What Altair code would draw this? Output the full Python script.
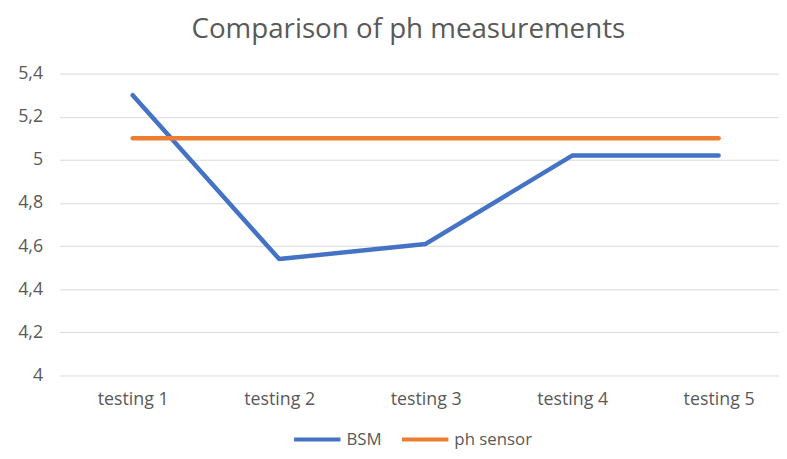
import altair as alt
import pandas as pd

categories = ["testing 1", "testing 2", "testing 3", "testing 4", "testing 5"]
bsm = [5.3, 4.54, 4.61, 5.02, 5.02]
ph_sensor = [5.1, 5.1, 5.1, 5.1, 5.1]
series_names = ["BSM", "ph sensor"]
series_colors = ["#4472C4", "#ED7D31"]
y_ticks = [4.0, 4.2, 4.4, 4.6, 4.8, 5.0, 5.2, 5.4]

rows = []
for name, vals in zip(series_names, [bsm, ph_sensor]):
    for c, v in zip(categories, vals):
        rows.append({"category": c, "value": v, "series": name})
df = pd.DataFrame(rows)

FONT = "Open Sans"
GREY = "#595959"
FS = 18

chart = alt.Chart(df).mark_line(strokeWidth=4.5, strokeCap="round", strokeJoin="round").encode(
    x=alt.X("category:N", sort=categories,
            scale=alt.Scale(type="point", padding=0.5, range=[0, 740]),
            axis=alt.Axis(title=None, labelAngle=0, domain=False, ticks=False, grid=False,
                          labelPadding=15, labelFontSize=FS, labelColor=GREY, labelFont=FONT)),
    y=alt.Y("value:Q", scale=alt.Scale(domain=[4, 5.4], nice=False, zero=False),
            axis=alt.Axis(title=None, values=y_ticks, domain=False, ticks=False,
                          gridColor="#D9D9D9", gridWidth=1,
                          labelExpr="replace(format(datum.value, '.1~f'), '.', ',')",
                          labelPadding=17, labelFontSize=FS, labelColor=GREY, labelFont=FONT)),
    color=alt.Color("series:N", scale=alt.Scale(domain=series_names, range=series_colors),
                    legend=alt.Legend(title=None, orient="none", direction="horizontal",
                                      legendX=235, legendY=344,
                                      symbolType="stroke", symbolSize=2200, symbolStrokeWidth=4,
                                      labelFontSize=17, labelColor=GREY, labelFont=FONT,
                                      columnPadding=12, labelOffset=4)),
    order=alt.Order("series:N"),
).properties(
    width=727, height=305,
    title=alt.TitleParams("Comparison of ph measurements", font=FONT, fontSize=28,
                          fontWeight="normal", color=GREY, anchor="middle", offset=21, dx=-11),
    autosize=alt.AutoSizeParams(type="none"),
    padding={"left": 52, "top": 64, "right": 0, "bottom": 74},
).configure_view(stroke=None)

chart.save("out.html", embed_options={"renderer": "svg", "actions": False})
